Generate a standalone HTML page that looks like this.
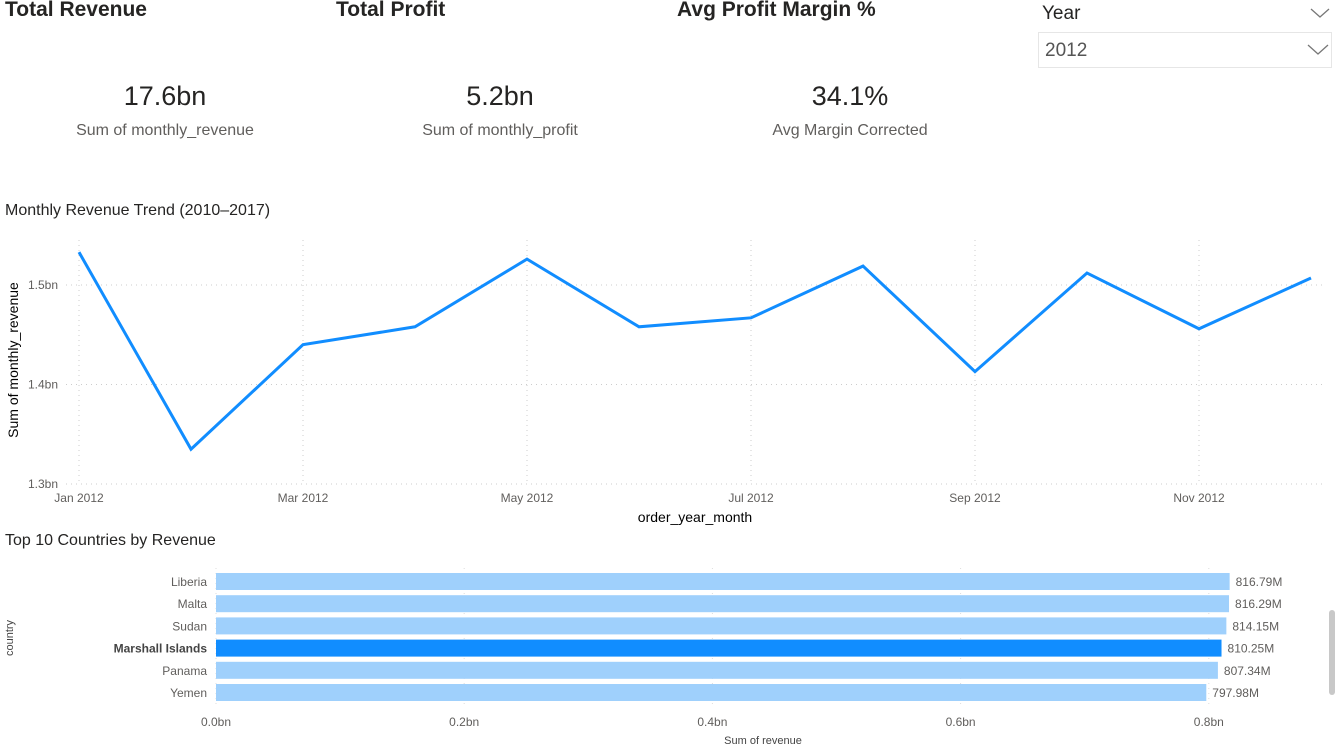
<!DOCTYPE html>
<html><head><meta charset="utf-8"><style>
body{margin:0;width:1339px;height:750px;overflow:hidden;background:#fff;font-family:"Liberation Sans",sans-serif;position:relative;color:#252423}
.abs{position:absolute}
.kt{font-size:21px;font-weight:bold;top:-2px}
.kv{font-size:27px;text-align:center;width:300px;top:81px}
.kl{font-size:16px;color:#605e5c;text-align:center;width:300px;top:122px}
</style></head><body>
<div class="abs kt" style="left:5px">Total Revenue</div>
<div class="abs kt" style="left:336px">Total Profit</div>
<div class="abs kt" style="left:677px">Avg Profit Margin %</div>
<div class="abs kv" style="left:15px">17.6bn</div>
<div class="abs kl" style="left:15px">Sum of monthly_revenue</div>
<div class="abs kv" style="left:350px">5.2bn</div>
<div class="abs kl" style="left:350px">Sum of monthly_profit</div>
<div class="abs kv" style="left:700px">34.1%</div>
<div class="abs kl" style="left:700px">Avg Margin Corrected</div>
<div class="abs" style="left:1042px;top:3px;font-size:19px">Year</div>
<svg class="abs" style="left:1310px;top:8px" width="20" height="12"><path d="M1 1 L10 9 L19 1" fill="none" stroke="#777" stroke-width="1.3"/></svg>
<div class="abs" style="left:1038px;top:32px;width:292px;height:34px;border:1px solid #e6e6e6">
<span class="abs" style="left:6px;top:7px;font-size:19px;color:#555">2012</span>
<svg class="abs" style="left:268px;top:10px" width="22" height="14"><path d="M1 2 L11 11 L21 2" fill="none" stroke="#777" stroke-width="1.3"/></svg>
</div>
<div class="abs" style="left:5px;top:202px;font-size:16px">Monthly Revenue Trend (2010–2017)</div>
<div class="abs" style="left:5px;top:532px;font-size:16px">Top 10 Countries by Revenue</div>
<svg class="abs" style="left:0;top:0" width="1339" height="750" id="ch"></svg>
<script>
const months=["Jan 2012","Feb 2012","Mar 2012","Apr 2012","May 2012","Jun 2012","Jul 2012","Aug 2012","Sep 2012","Oct 2012","Nov 2012","Dec 2012"];
const revenue=[1.533,1.335,1.440,1.458,1.526,1.458,1.467,1.519,1.413,1.512,1.456,1.507];
const yTicks=[1.3,1.4,1.5];
const countries=["Liberia","Malta","Sudan","Marshall Islands","Panama","Yemen"];
const countryRev=[816.79,816.29,814.15,810.25,807.34,797.98];
const xTicks=[0,0.2,0.4,0.6,0.8];
const NS="http://www.w3.org/2000/svg";
const svg=document.getElementById('ch');
function mk(t,a,txt){const e=document.createElementNS(NS,t);for(const k in a)e.setAttribute(k,a[k]);if(txt!==undefined)e.textContent=txt;svg.appendChild(e);return e;}
const lx=i=>79+i*112, ly=v=>484-(v-1.3)*995;
yTicks.forEach(v=>{
 const g=mk('line',{x1:66,x2:1325,y1:ly(v),y2:ly(v),stroke:'#ccc','stroke-dasharray':'1 4'});
 
 
 const t=mk('text',{x:58,y:ly(v)+4,'text-anchor':'end','font-size':12,fill:'#605e5c'},v.toFixed(1)+'bn');
 
 
});
months.forEach((m,i)=>{
 if(i%2==0){
 const g=mk('line',{x1:lx(i),x2:lx(i),y1:240,y2:484,stroke:'#ccc','stroke-dasharray':'1 4'});
 
 
 const t=mk('text',{x:lx(i),y:502,'text-anchor':'middle','font-size':12,fill:'#605e5c'},m);
 
 }
});
const ln=mk('polyline',{points:revenue.map((v,i)=>lx(i)+','+ly(v)).join(' '),fill:'none',stroke:'#118dff','stroke-width':3,'stroke-linejoin':'miter'});


let t1=mk('text',{x:695,y:522,'text-anchor':'middle','font-size':14},'order_year_month');


let t2=mk('text',{x:18,y:360,'text-anchor':'middle','font-size':14,transform:'rotate(-90 18 360)'},'Sum of monthly_revenue');


const bx=v=>216+v*1241, by=i=>573+i*22.2;
xTicks.forEach(v=>{
 const g=mk('line',{x1:bx(v),x2:bx(v),y1:568,y2:708,stroke:'#ddd','stroke-dasharray':'1 4'});
 
 
 const t=mk('text',{x:bx(v),y:726,'text-anchor':'middle','font-size':12,fill:'#605e5c'},v.toFixed(1)+'bn');
 
 
});
countries.forEach((c,i)=>{
 const hi=i==3;
 const r=mk('rect',{x:216,y:by(i),width:bx(countryRev[i]/1000)-216,height:17,fill:hi?'#118dff':'#9fd0fc'});
 
 
 const l=mk('text',{x:207,y:by(i)+13,'text-anchor':'end','font-size':12,fill:hi?'#444':'#605e5c','font-weight':hi?'bold':'normal'},c);
 
 
 const d=mk('text',{x:bx(countryRev[i]/1000)+6,y:by(i)+13,'font-size':12,fill:'#605e5c'},countryRev[i].toFixed(2)+'M');
 
 
});
let t3=mk('text',{x:763,y:744,'text-anchor':'middle','font-size':11,fill:'#444'},'Sum of revenue');


let t4=mk('text',{x:13,y:638,'text-anchor':'middle','font-size':11,fill:'#444',transform:'rotate(-90 13 638)'},'country');


let sb=mk('rect',{x:1329,y:610,width:6,height:85,rx:3,fill:'#c8c8c8'});


</script>
</body></html>
